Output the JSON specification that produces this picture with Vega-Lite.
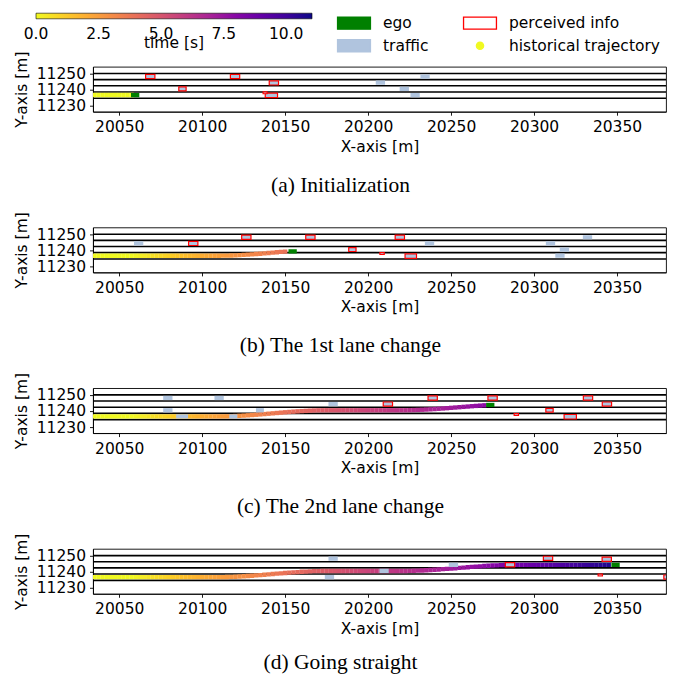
{
"$schema": "https://vega.github.io/schema/vega-lite/v6.json",
"background": "white",
"padding": {"left": 13, "top": 12.7, "right": 5, "bottom": 2},
"config": {
 "view": {"stroke": "black", "strokeWidth": 0.9},
 "axis": {"labelFont": "DejaVu Sans", "labelFontSize": 15.5, "labelColor": "black", "titleFont": "DejaVu Sans", "titleFontSize": 15.5, "titleFontWeight": "normal", "titleColor": "black", "tickColor": "black", "domainColor": "black", "tickSize": 3.5, "tickWidth": 0.9, "domainWidth": 0.9, "grid": false, "labelPadding": 4.5},
 "axisY": {"titlePadding": 7, "labelPadding": 4},
 "legend": {"labelFont": "DejaVu Sans", "labelFontSize": 15.5, "labelColor": "black", "titleFont": "DejaVu Sans", "titleFontSize": 15.5, "titleFontWeight": "normal", "titleColor": "black", "padding": 0},
 "title": {"font": "Liberation Serif", "fontSize": 21.5, "fontWeight": "normal", "color": "black"},
 "concat": {"spacing": 13.7}
},
"datasets": {
 "lanes": [{"y": 11249.9}, {"y": 11246.1}, {"y": 11242.3}, {"y": 11238.5}, {"y": 11234.6}],
 "traj": [
  {"x":20035,"y":11236.6,"t":0},{"x":20037.5,"y":11236.6,"t":0},{"x":20040,"y":11236.6,"t":0},{"x":20042.5,"y":11236.6,"t":0},{"x":20045,"y":11236.6,"t":0},{"x":20047.5,"y":11236.6,"t":0},{"x":20050,"y":11236.6,"t":0},{"x":20052.5,"y":11236.6,"t":0},{"x":20055,"y":11236.6,"t":0},{"x":20057.5,"y":11236.6,"t":0},
  {"x":20060,"y":11236.6,"t":0.12},{"x":20062.5,"y":11236.6,"t":0.24},{"x":20065,"y":11236.6,"t":0.35},{"x":20067.5,"y":11236.6,"t":0.47},{"x":20070,"y":11236.6,"t":0.59},{"x":20072.5,"y":11236.6,"t":0.71},{"x":20075,"y":11236.6,"t":0.82},{"x":20077.5,"y":11236.6,"t":0.94},{"x":20080,"y":11236.6,"t":1.06},{"x":20082.5,"y":11236.6,"t":1.18},{"x":20085,"y":11236.6,"t":1.29},{"x":20087.5,"y":11236.6,"t":1.41},{"x":20090,"y":11236.6,"t":1.53},{"x":20092.5,"y":11236.6,"t":1.65},{"x":20095,"y":11236.6,"t":1.76},{"x":20097.5,"y":11236.6,"t":1.88},{"x":20100,"y":11236.6,"t":2.0},
  {"x":20102.5,"y":11236.6,"t":2.10},{"x":20105,"y":11236.6,"t":2.19},{"x":20107.5,"y":11236.6,"t":2.29},{"x":20110,"y":11236.6,"t":2.38},
  {"x":20112.5,"y":11236.62,"t":2.48},{"x":20115,"y":11236.66,"t":2.57},{"x":20117.5,"y":11236.74,"t":2.67},{"x":20120,"y":11236.84,"t":2.76},{"x":20122.5,"y":11236.97,"t":2.86},{"x":20125,"y":11237.11,"t":2.95},{"x":20127.5,"y":11237.28,"t":3.05},{"x":20130,"y":11237.46,"t":3.14},{"x":20132.5,"y":11237.65,"t":3.24},{"x":20135,"y":11237.85,"t":3.33},{"x":20137.5,"y":11238.06,"t":3.43},{"x":20140,"y":11238.28,"t":3.52},{"x":20142.5,"y":11238.5,"t":3.62},{"x":20145,"y":11238.72,"t":3.71},{"x":20147.5,"y":11238.94,"t":3.81},{"x":20150,"y":11239.15,"t":3.9},
  {"x":20152.5,"y":11239.35,"t":3.99},{"x":20155,"y":11239.54,"t":4.07},{"x":20157.5,"y":11239.72,"t":4.16},{"x":20160,"y":11239.89,"t":4.24},{"x":20162.5,"y":11240.03,"t":4.33},{"x":20165,"y":11240.16,"t":4.41},{"x":20167.5,"y":11240.26,"t":4.5},{"x":20170,"y":11240.34,"t":4.58},{"x":20172.5,"y":11240.38,"t":4.67},{"x":20175,"y":11240.4,"t":4.75},
  {"x":20177.5,"y":11240.4,"t":4.84},{"x":20180,"y":11240.4,"t":4.92},{"x":20182.5,"y":11240.4,"t":5.01},{"x":20185,"y":11240.4,"t":5.09},{"x":20187.5,"y":11240.4,"t":5.18},{"x":20190,"y":11240.4,"t":5.26},{"x":20192.5,"y":11240.4,"t":5.35},{"x":20195,"y":11240.4,"t":5.43},{"x":20197.5,"y":11240.4,"t":5.52},{"x":20200,"y":11240.4,"t":5.6},
  {"x":20202.5,"y":11240.4,"t":5.68},{"x":20205,"y":11240.4,"t":5.76},{"x":20207.5,"y":11240.4,"t":5.84},{"x":20210,"y":11240.4,"t":5.92},{"x":20212.5,"y":11240.4,"t":6.0},{"x":20215,"y":11240.4,"t":6.08},{"x":20217.5,"y":11240.4,"t":6.16},{"x":20220,"y":11240.4,"t":6.24},
  {"x":20222.5,"y":11240.41,"t":6.32},{"x":20225,"y":11240.46,"t":6.4},{"x":20227.5,"y":11240.52,"t":6.48},{"x":20230,"y":11240.61,"t":6.56},{"x":20232.5,"y":11240.72,"t":6.64},{"x":20235,"y":11240.85,"t":6.72},{"x":20237.5,"y":11240.99,"t":6.8},{"x":20240,"y":11241.15,"t":6.88},{"x":20242.5,"y":11241.33,"t":6.96},{"x":20245,"y":11241.51,"t":7.04},{"x":20247.5,"y":11241.7,"t":7.12},{"x":20250,"y":11241.9,"t":7.2},
  {"x":20252.5,"y":11242.1,"t":7.28},{"x":20255,"y":11242.3,"t":7.36},{"x":20257.5,"y":11242.5,"t":7.44},{"x":20260,"y":11242.7,"t":7.52},{"x":20262.5,"y":11242.9,"t":7.6},{"x":20265,"y":11243.09,"t":7.68},{"x":20267.5,"y":11243.27,"t":7.76},{"x":20270,"y":11243.45,"t":7.84},{"x":20272.5,"y":11243.61,"t":7.92},{"x":20275,"y":11243.75,"t":8.0},
  {"x":20277.5,"y":11243.88,"t":8.09},{"x":20280,"y":11243.99,"t":8.18},{"x":20282.5,"y":11244.08,"t":8.27},{"x":20285,"y":11244.14,"t":8.36},{"x":20287.5,"y":11244.19,"t":8.45},{"x":20290,"y":11244.2,"t":8.54},{"x":20292.5,"y":11244.2,"t":8.63},{"x":20295,"y":11244.2,"t":8.72},{"x":20297.5,"y":11244.2,"t":8.81},{"x":20300,"y":11244.2,"t":8.9},
  {"x":20302.5,"y":11244.2,"t":9.0},{"x":20305,"y":11244.2,"t":9.1},{"x":20307.5,"y":11244.2,"t":9.2},{"x":20310,"y":11244.2,"t":9.3},{"x":20312.5,"y":11244.2,"t":9.4},{"x":20315,"y":11244.2,"t":9.5},{"x":20317.5,"y":11244.2,"t":9.6},{"x":20320,"y":11244.2,"t":9.7},{"x":20322.5,"y":11244.2,"t":9.8},{"x":20325,"y":11244.2,"t":9.9},{"x":20327.5,"y":11244.2,"t":10.0},{"x":20330,"y":11244.2,"t":10.1},{"x":20332.5,"y":11244.2,"t":10.2},{"x":20335,"y":11244.2,"t":10.3},{"x":20337.5,"y":11244.2,"t":10.4},{"x":20340,"y":11244.2,"t":10.5},{"x":20342.5,"y":11244.2,"t":10.6},{"x":20345,"y":11244.2,"t":10.7},{"x":20347.5,"y":11244.2,"t":10.8}
 ],
 "veh": [
  {"p":1,"k":"traffic","x1":20204.6,"x2":20210.2,"y1":11242.9,"y2":11245.5},
  {"p":1,"k":"traffic","x1":20231.5,"x2":20237.1,"y1":11246.7,"y2":11249.3},
  {"p":1,"k":"traffic","x1":20219.0,"x2":20224.6,"y1":11239.1,"y2":11241.7},
  {"p":1,"k":"traffic","x1":20225.5,"x2":20231.1,"y1":11235.3,"y2":11237.9},
  {"p":1,"k":"perceived info","x1":20065.9,"x2":20071.5,"y1":11246.7,"y2":11249.3},
  {"p":1,"k":"perceived info","x1":20117.0,"x2":20122.6,"y1":11246.7,"y2":11249.3},
  {"p":1,"k":"perceived info","x1":20085.9,"x2":20090.3,"y1":11239.2,"y2":11241.6},
  {"p":1,"k":"perceived info","x1":20140.4,"x2":20146.0,"y1":11242.8,"y2":11245.4},
  {"p":1,"k":"perceived info","x1":20138.0,"x2":20145.4,"y1":11235.0,"y2":11237.8},
  {"p":1,"k":"perceived info","x1":20136.7,"x2":20139.1,"y1":11237.4,"y2":11238.6},
  {"p":1,"k":"ego","x1":20057.1,"x2":20062.1,"y1":11235.3,"y2":11237.9},
  {"p":2,"k":"traffic","x1":20058.9,"x2":20064.5,"y1":11242.9,"y2":11245.5},
  {"p":2,"k":"traffic","x1":20234.2,"x2":20239.8,"y1":11242.9,"y2":11245.5},
  {"p":2,"k":"traffic","x1":20307.1,"x2":20312.7,"y1":11242.9,"y2":11245.5},
  {"p":2,"k":"traffic","x1":20329.4,"x2":20335.0,"y1":11246.7,"y2":11249.3},
  {"p":2,"k":"traffic","x1":20315.5,"x2":20321.1,"y1":11239.1,"y2":11241.7},
  {"p":2,"k":"traffic","x1":20312.8,"x2":20318.4,"y1":11235.3,"y2":11237.9},
  {"p":2,"k":"perceived info","x1":20091.8,"x2":20097.4,"y1":11242.9,"y2":11245.5},
  {"p":2,"k":"perceived info","x1":20123.8,"x2":20129.4,"y1":11246.7,"y2":11249.3},
  {"p":2,"k":"perceived info","x1":20162.4,"x2":20168.0,"y1":11246.7,"y2":11249.3},
  {"p":2,"k":"perceived info","x1":20216.3,"x2":20221.9,"y1":11246.7,"y2":11249.3},
  {"p":2,"k":"perceived info","x1":20188.3,"x2":20192.7,"y1":11239.2,"y2":11241.6},
  {"p":2,"k":"perceived info","x1":20207.1,"x2":20209.7,"y1":11237.4,"y2":11238.6},
  {"p":2,"k":"perceived info","x1":20222.25,"x2":20229.15,"y1":11235.0,"y2":11237.8},
  {"p":2,"k":"ego","x1":20152.0,"x2":20157.0,"y1":11238.0,"y2":11240.6},
  {"p":3,"k":"traffic","x1":20076.5,"x2":20082.1,"y1":11246.7,"y2":11249.3},
  {"p":3,"k":"traffic","x1":20107.4,"x2":20113.0,"y1":11246.7,"y2":11249.3},
  {"p":3,"k":"traffic","x1":20076.5,"x2":20082.1,"y1":11239.1,"y2":11241.7},
  {"p":3,"k":"traffic","x1":20084.3,"x2":20091.5,"y1":11235.3,"y2":11237.9},
  {"p":3,"k":"traffic","x1":20116.3,"x2":20121.1,"y1":11235.3,"y2":11237.9},
  {"p":3,"k":"traffic","x1":20132.4,"x2":20137.2,"y1":11239.1,"y2":11241.7},
  {"p":3,"k":"traffic","x1":20176.1,"x2":20181.7,"y1":11242.9,"y2":11245.5},
  {"p":3,"k":"perceived info","x1":20236.1,"x2":20241.7,"y1":11246.7,"y2":11249.3},
  {"p":3,"k":"perceived info","x1":20272.2,"x2":20277.8,"y1":11246.7,"y2":11249.3},
  {"p":3,"k":"perceived info","x1":20329.7,"x2":20335.3,"y1":11246.7,"y2":11249.3},
  {"p":3,"k":"perceived info","x1":20209.1,"x2":20214.7,"y1":11242.9,"y2":11245.5},
  {"p":3,"k":"perceived info","x1":20341.1,"x2":20346.7,"y1":11242.9,"y2":11245.5},
  {"p":3,"k":"perceived info","x1":20307.1,"x2":20311.5,"y1":11239.2,"y2":11241.6},
  {"p":3,"k":"perceived info","x1":20288.0,"x2":20290.6,"y1":11237.2,"y2":11238.4},
  {"p":3,"k":"perceived info","x1":20318.1,"x2":20325.5,"y1":11235.0,"y2":11237.8},
  {"p":3,"k":"ego","x1":20271.1,"x2":20276.1,"y1":11242.4,"y2":11245.0},
  {"p":4,"k":"traffic","x1":20176.1,"x2":20181.7,"y1":11246.7,"y2":11249.3},
  {"p":4,"k":"traffic","x1":20173.9,"x2":20179.5,"y1":11235.3,"y2":11237.9},
  {"p":4,"k":"traffic","x1":20206.8,"x2":20212.4,"y1":11239.1,"y2":11241.7},
  {"p":4,"k":"traffic","x1":20248.6,"x2":20254.2,"y1":11242.9,"y2":11245.5},
  {"p":4,"k":"perceived info","x1":20282.7,"x2":20288.3,"y1":11242.9,"y2":11245.5},
  {"p":4,"k":"perceived info","x1":20305.6,"x2":20311.2,"y1":11246.9,"y2":11249.5},
  {"p":4,"k":"perceived info","x1":20341.0,"x2":20346.6,"y1":11246.3,"y2":11248.9},
  {"p":4,"k":"perceived info","x1":20338.6,"x2":20341.2,"y1":11237.3,"y2":11238.5},
  {"p":4,"k":"perceived info","x1":20378.2,"x2":20383.8,"y1":11235.3,"y2":11237.9},
  {"p":4,"k":"ego","x1":20346.6,"x2":20351.6,"y1":11242.9,"y2":11245.5}
 ]
},
"resolve": {"scale": {"color": "shared"}},
"vconcat": [
 {"width": 573, "height": 45,
  "title": {"text": "(a) Initialization", "orient": "bottom", "anchor": "middle", "frame": "bounds", "offset": 20},
  "layer": [
   {"data": {"name": "lanes"}, "mark": {"type": "rule", "color": "black", "strokeWidth": 1.6},
    "encoding": {"y": {"field": "y", "type": "quantitative", "scale": {"domain": [11226.3, 11254.1], "nice": false, "zero": false}, "axis": {"title": "Y-axis [m]", "values": [11230, 11240, 11250], "format": "d"}}}},
   {"data": {"name": "traj"}, "transform": [{"filter": "datum.x <= 20057.5"}],
    "mark": {"type": "point", "shape": "square", "filled": true, "size": 19, "opacity": 1, "clip": true, "strokeWidth": 0},
    "encoding": {
     "x": {"field": "x", "type": "quantitative", "scale": {"domain": [20034.2, 20379.5], "nice": false, "zero": false}, "axis": {"title": "X-axis [m]", "values": [20050, 20100, 20150, 20200, 20250, 20300, 20350], "format": "d"}},
     "y": {"field": "y", "type": "quantitative", "scale": {"domain": [11226.3, 11254.1], "nice": false, "zero": false}, "axis": {"title": "Y-axis [m]", "values": [11230, 11240, 11250], "format": "d"}},
     "color": {"field": "t", "type": "quantitative", "scale": {"domain": [-0.002, 11.03], "scheme": {"name": "plasma", "extent": [1, 0]}},
      "legend": {"orient": "none", "legendX": -57, "legendY": -53.5, "direction": "horizontal", "gradientLength": 276, "gradientThickness": 5.6, "title": "time [s]", "titleOrient": "bottom", "titleAnchor": "middle", "values": [0, 2.5, 5, 7.5, 10], "format": ".1f", "gradientStrokeColor": "black", "gradientStrokeWidth": 0.6, "labelOffset": 8, "titlePadding": -6}}}},
   {"data": {"name": "veh"}, "transform": [{"filter": "datum.p == 1"}],
    "mark": {"type": "rect", "clip": true},
    "encoding": {
     "x": {"field": "x1", "type": "quantitative", "scale": {"domain": [20034.2, 20379.5], "nice": false, "zero": false}, "axis": {"title": "X-axis [m]", "values": [20050, 20100, 20150, 20200, 20250, 20300, 20350], "format": "d"}},
     "x2": {"field": "x2"},
     "y": {"field": "y1", "type": "quantitative", "scale": {"domain": [11226.3, 11254.1], "nice": false, "zero": false}, "axis": {"title": "Y-axis [m]", "values": [11230, 11240, 11250], "format": "d"}},
     "y2": {"field": "y2"},
     "fill": {"condition": {"test": "datum.k === 'ego'", "value": "#008000"}, "value": "#b0c4de"},
     "stroke": {"condition": {"test": "datum.k === 'perceived info'", "value": "#ff0000"}, "value": "#b0c4de"},
     "strokeWidth": {"condition": {"test": "datum.k === 'perceived info'", "value": 1.2}, "value": 0}}},
   {"data": {"name": "veh"}, "transform": [{"filter": "datum.p == 99"}],
    "mark": {"type": "point", "filled": true, "strokeWidth": 1.3, "size": 300},
    "encoding": {
     "x": {"field": "x1", "type": "quantitative", "scale": {"domain": [20034.2, 20379.5], "nice": false, "zero": false}, "axis": {"title": "X-axis [m]", "values": [20050, 20100, 20150, 20200, 20250, 20300, 20350], "format": "d"}},
     "y": {"field": "y1", "type": "quantitative", "scale": {"domain": [11226.3, 11254.1], "nice": false, "zero": false}, "axis": {"title": "Y-axis [m]", "values": [11230, 11240, 11250], "format": "d"}},
     "shape": {"field": "k", "type": "nominal", "scale": {"domain": ["ego", "traffic", "perceived info", "historical trajectory"], "range": ["M-1.9,-0.7H1.9V0.7H-1.9Z", "M-1.9,-0.7H1.9V0.7H-1.9Z", "M-1.9,-0.7H1.9V0.7H-1.9Z", "M0.42,0A0.42,0.42,0,1,1,-0.42,0A0.42,0.42,0,1,1,0.42,0Z"]},
      "legend": {"orient": "none", "legendX": 243.7, "legendY": -53.5, "title": null, "columns": 2, "columnPadding": 32, "rowPadding": 4, "symbolOffset": 7.8, "labelOffset": 19.5, "labelFontSize": 15.5, "symbolOpacity": 1, "symbolStrokeWidth": 1.3, "symbolSize": 300}},
     "fill": {"field": "k", "type": "nominal", "scale": {"domain": ["ego", "traffic", "perceived info", "historical trajectory"], "range": ["#008000", "#b0c4de", "#ffffff", "#f0f921"]},
      "legend": {"orient": "none", "legendX": 243.7, "legendY": -53.5, "title": null, "columns": 2, "columnPadding": 32, "rowPadding": 4, "symbolOffset": 7.8, "labelOffset": 19.5, "labelFontSize": 15.5, "symbolOpacity": 1, "symbolStrokeWidth": 1.3, "symbolSize": 300}},
     "stroke": {"field": "k", "type": "nominal", "scale": {"domain": ["ego", "traffic", "perceived info", "historical trajectory"], "range": ["#008000", "#b0c4de", "#ff0000", "#f0f921"]},
      "legend": {"orient": "none", "legendX": 243.7, "legendY": -53.5, "title": null, "columns": 2, "columnPadding": 32, "rowPadding": 4, "symbolOffset": 7.8, "labelOffset": 19.5, "labelFontSize": 15.5, "symbolOpacity": 1, "symbolStrokeWidth": 1.3, "symbolSize": 300}}}}
  ]},
 {"width": 573, "height": 45,
  "title": {"text": "(b) The 1st lane change", "orient": "bottom", "anchor": "middle", "frame": "bounds", "offset": 20},
  "layer": [
   {"data": {"name": "lanes"}, "mark": {"type": "rule", "color": "black", "strokeWidth": 1.6},
    "encoding": {"y": {"field": "y", "type": "quantitative", "scale": {"domain": [11226.3, 11254.1], "nice": false, "zero": false}, "axis": {"title": "Y-axis [m]", "values": [11230, 11240, 11250], "format": "d"}}}},
   {"data": {"name": "traj"}, "transform": [{"filter": "datum.x <= 20150"}],
    "mark": {"type": "point", "shape": "square", "filled": true, "size": 19, "opacity": 1, "clip": true, "strokeWidth": 0},
    "encoding": {
     "x": {"field": "x", "type": "quantitative", "scale": {"domain": [20034.2, 20379.5], "nice": false, "zero": false}, "axis": {"title": "X-axis [m]", "values": [20050, 20100, 20150, 20200, 20250, 20300, 20350], "format": "d"}},
     "y": {"field": "y", "type": "quantitative", "scale": {"domain": [11226.3, 11254.1], "nice": false, "zero": false}, "axis": {"title": "Y-axis [m]", "values": [11230, 11240, 11250], "format": "d"}},
     "color": {"field": "t", "type": "quantitative", "scale": {"domain": [-0.002, 11.03], "scheme": {"name": "plasma", "extent": [1, 0]}},
      "legend": {"orient": "none", "legendX": -57, "legendY": -53.5, "direction": "horizontal", "gradientLength": 276, "gradientThickness": 5.6, "title": "time [s]", "titleOrient": "bottom", "titleAnchor": "middle", "values": [0, 2.5, 5, 7.5, 10], "format": ".1f", "gradientStrokeColor": "black", "gradientStrokeWidth": 0.6, "labelOffset": 8, "titlePadding": -6}}}},
   {"data": {"name": "veh"}, "transform": [{"filter": "datum.p == 2"}],
    "mark": {"type": "rect", "clip": true},
    "encoding": {
     "x": {"field": "x1", "type": "quantitative", "scale": {"domain": [20034.2, 20379.5], "nice": false, "zero": false}, "axis": {"title": "X-axis [m]", "values": [20050, 20100, 20150, 20200, 20250, 20300, 20350], "format": "d"}},
     "x2": {"field": "x2"},
     "y": {"field": "y1", "type": "quantitative", "scale": {"domain": [11226.3, 11254.1], "nice": false, "zero": false}, "axis": {"title": "Y-axis [m]", "values": [11230, 11240, 11250], "format": "d"}},
     "y2": {"field": "y2"},
     "fill": {"condition": {"test": "datum.k === 'ego'", "value": "#008000"}, "value": "#b0c4de"},
     "stroke": {"condition": {"test": "datum.k === 'perceived info'", "value": "#ff0000"}, "value": "#b0c4de"},
     "strokeWidth": {"condition": {"test": "datum.k === 'perceived info'", "value": 1.2}, "value": 0}}}
  ]},
 {"width": 573, "height": 45,
  "title": {"text": "(c) The 2nd lane change", "orient": "bottom", "anchor": "middle", "frame": "bounds", "offset": 20},
  "layer": [
   {"data": {"name": "lanes"}, "mark": {"type": "rule", "color": "black", "strokeWidth": 1.6},
    "encoding": {"y": {"field": "y", "type": "quantitative", "scale": {"domain": [11226.3, 11254.1], "nice": false, "zero": false}, "axis": {"title": "Y-axis [m]", "values": [11230, 11240, 11250], "format": "d"}}}},
   {"data": {"name": "traj"}, "transform": [{"filter": "datum.x <= 20270"}],
    "mark": {"type": "point", "shape": "square", "filled": true, "size": 19, "opacity": 1, "clip": true, "strokeWidth": 0},
    "encoding": {
     "x": {"field": "x", "type": "quantitative", "scale": {"domain": [20034.2, 20379.5], "nice": false, "zero": false}, "axis": {"title": "X-axis [m]", "values": [20050, 20100, 20150, 20200, 20250, 20300, 20350], "format": "d"}},
     "y": {"field": "y", "type": "quantitative", "scale": {"domain": [11226.3, 11254.1], "nice": false, "zero": false}, "axis": {"title": "Y-axis [m]", "values": [11230, 11240, 11250], "format": "d"}},
     "color": {"field": "t", "type": "quantitative", "scale": {"domain": [-0.002, 11.03], "scheme": {"name": "plasma", "extent": [1, 0]}},
      "legend": {"orient": "none", "legendX": -57, "legendY": -53.5, "direction": "horizontal", "gradientLength": 276, "gradientThickness": 5.6, "title": "time [s]", "titleOrient": "bottom", "titleAnchor": "middle", "values": [0, 2.5, 5, 7.5, 10], "format": ".1f", "gradientStrokeColor": "black", "gradientStrokeWidth": 0.6, "labelOffset": 8, "titlePadding": -6}}}},
   {"data": {"name": "veh"}, "transform": [{"filter": "datum.p == 3"}],
    "mark": {"type": "rect", "clip": true},
    "encoding": {
     "x": {"field": "x1", "type": "quantitative", "scale": {"domain": [20034.2, 20379.5], "nice": false, "zero": false}, "axis": {"title": "X-axis [m]", "values": [20050, 20100, 20150, 20200, 20250, 20300, 20350], "format": "d"}},
     "x2": {"field": "x2"},
     "y": {"field": "y1", "type": "quantitative", "scale": {"domain": [11226.3, 11254.1], "nice": false, "zero": false}, "axis": {"title": "Y-axis [m]", "values": [11230, 11240, 11250], "format": "d"}},
     "y2": {"field": "y2"},
     "fill": {"condition": {"test": "datum.k === 'ego'", "value": "#008000"}, "value": "#b0c4de"},
     "stroke": {"condition": {"test": "datum.k === 'perceived info'", "value": "#ff0000"}, "value": "#b0c4de"},
     "strokeWidth": {"condition": {"test": "datum.k === 'perceived info'", "value": 1.2}, "value": 0}}}
  ]},
 {"width": 573, "height": 45,
  "title": {"text": "(d) Going straight", "orient": "bottom", "anchor": "middle", "frame": "bounds", "offset": 15},
  "layer": [
   {"data": {"name": "lanes"}, "mark": {"type": "rule", "color": "black", "strokeWidth": 1.6},
    "encoding": {"y": {"field": "y", "type": "quantitative", "scale": {"domain": [11226.3, 11254.1], "nice": false, "zero": false}, "axis": {"title": "Y-axis [m]", "values": [11230, 11240, 11250], "format": "d"}}}},
   {"data": {"name": "traj"}, "transform": [{"filter": "datum.x <= 20345"}],
    "mark": {"type": "point", "shape": "square", "filled": true, "size": 19, "opacity": 1, "clip": true, "strokeWidth": 0},
    "encoding": {
     "x": {"field": "x", "type": "quantitative", "scale": {"domain": [20034.2, 20379.5], "nice": false, "zero": false}, "axis": {"title": "X-axis [m]", "values": [20050, 20100, 20150, 20200, 20250, 20300, 20350], "format": "d"}},
     "y": {"field": "y", "type": "quantitative", "scale": {"domain": [11226.3, 11254.1], "nice": false, "zero": false}, "axis": {"title": "Y-axis [m]", "values": [11230, 11240, 11250], "format": "d"}},
     "color": {"field": "t", "type": "quantitative", "scale": {"domain": [-0.002, 11.03], "scheme": {"name": "plasma", "extent": [1, 0]}},
      "legend": {"orient": "none", "legendX": -57, "legendY": -53.5, "direction": "horizontal", "gradientLength": 276, "gradientThickness": 5.6, "title": "time [s]", "titleOrient": "bottom", "titleAnchor": "middle", "values": [0, 2.5, 5, 7.5, 10], "format": ".1f", "gradientStrokeColor": "black", "gradientStrokeWidth": 0.6, "labelOffset": 8, "titlePadding": -6}}}},
   {"data": {"name": "veh"}, "transform": [{"filter": "datum.p == 4"}],
    "mark": {"type": "rect", "clip": true},
    "encoding": {
     "x": {"field": "x1", "type": "quantitative", "scale": {"domain": [20034.2, 20379.5], "nice": false, "zero": false}, "axis": {"title": "X-axis [m]", "values": [20050, 20100, 20150, 20200, 20250, 20300, 20350], "format": "d"}},
     "x2": {"field": "x2"},
     "y": {"field": "y1", "type": "quantitative", "scale": {"domain": [11226.3, 11254.1], "nice": false, "zero": false}, "axis": {"title": "Y-axis [m]", "values": [11230, 11240, 11250], "format": "d"}},
     "y2": {"field": "y2"},
     "fill": {"condition": {"test": "datum.k === 'ego'", "value": "#008000"}, "value": "#b0c4de"},
     "stroke": {"condition": {"test": "datum.k === 'perceived info'", "value": "#ff0000"}, "value": "#b0c4de"},
     "strokeWidth": {"condition": {"test": "datum.k === 'perceived info'", "value": 1.2}, "value": 0}}}
  ]}
]
}
